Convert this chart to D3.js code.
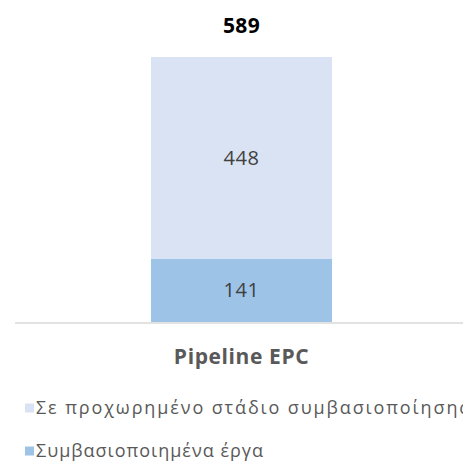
<!DOCTYPE html>
<html>
<head>
<meta charset="utf-8">
<script src="https://cdn.jsdelivr.net/npm/d3@7"></script>
<style>
  html, body { margin: 0; padding: 0; background: #fff; }
  svg { display: block; }
  text { font-family: "Open Sans", "Noto Sans", sans-serif; }
</style>
</head>
<body>
<svg id="chart" width="463" height="463"></svg>
<script>
// Stacked column: EPC pipeline split into signed and advanced-stage projects
const categories = ["Pipeline EPC"];
const seriesNames = ["Συμβασιοποιημένα έργα", "Σε προχωρημένο στάδιο συμβασιοποίησης"];
const signedValues = [141];
const advancedValues = [448];
const seriesColors = ["#9dc3e6", "#dae3f3"];
const legendOrder = [1, 0];
// rendered widths of the legend labels (px)
const legendTextWidths = [432, 227];

const svg = d3.select("#chart");

const rows = categories.map((c, i) => ({
  category: c,
  [seriesNames[0]]: signedValues[i],
  [seriesNames[1]]: advancedValues[i]
}));
const stacked = d3.stack().keys(seriesNames)(rows);
const totals = rows.map(r => d3.sum(seriesNames, k => r[k]));

const x = d3.scaleBand().domain(categories).range([151, 332]).padding(0);
const y = d3.scaleLinear().domain([0, d3.max(totals)]).range([322, 57]);

// bars
const layers = svg.append("g").selectAll("g").data(stacked).join("g")
  .attr("fill", (d, i) => seriesColors[i]);
layers.selectAll("rect").data(d => d).join("rect")
  .attr("x", d => x(d.data.category))
  .attr("width", x.bandwidth())
  .attr("y", d => y(d[1]))
  .attr("height", d => y(d[0]) - y(d[1]));

// segment value labels
layers.selectAll("text").data(d => d).join("text")
  .attr("x", d => x(d.data.category) + x.bandwidth() / 2)
  .attr("y", d => (y(d[0]) + y(d[1])) / 2)
  .attr("dy", "0.35em")
  .attr("text-anchor", "middle")
  .attr("font-size", 20)
  .attr("letter-spacing", 0.6)
  .attr("fill", "#404040")
  .text(d => d[1] - d[0]);

// totals above the columns
svg.append("g").selectAll("text").data(rows).join("text")
  .attr("x", d => x(d.category) + x.bandwidth() / 2)
  .attr("y", (d, i) => y(totals[i]) - 31)
  .attr("dy", "0.35em")
  .attr("text-anchor", "middle")
  .attr("font-size", 21)
  .attr("font-weight", "bold")
  .attr("letter-spacing", 0.3)
  .attr("fill", "#000")
  .text((d, i) => totals[i]);

// category axis line
svg.append("line")
  .attr("x1", 15).attr("x2", 463)
  .attr("y1", y(0) + 1).attr("y2", y(0) + 1)
  .attr("stroke", "#d9d9d9").attr("stroke-width", 1.5);

svg.append("g").selectAll("text").data(categories).join("text")
  .attr("x", d => x(d) + x.bandwidth() / 2)
  .attr("y", 357)
  .attr("dy", "0.35em")
  .attr("text-anchor", "middle")
  .attr("font-size", 21)
  .attr("font-weight", "bold")
  .attr("letter-spacing", 0.6)
  .attr("fill", "#595959")
  .text(d => d);

// legend
const legend = svg.append("g").selectAll("g").data(legendOrder).join("g")
  .attr("transform", (d, i) => `translate(25, ${408 + i * 43})`);
legend.append("rect")
  .attr("x", 0).attr("y", -4.5).attr("width", 9).attr("height", 9)
  .attr("fill", d => seriesColors[d]);
legend.append("text")
  .attr("x", 11).attr("y", 0).attr("dy", "0.35em")
  .attr("font-size", 18)
  .attr("fill", "#595959")
  .attr("textLength", (d, i) => legendTextWidths[i])
  .attr("lengthAdjust", "spacing")
  .text(d => seriesNames[d]);
</script>
</body>
</html>
